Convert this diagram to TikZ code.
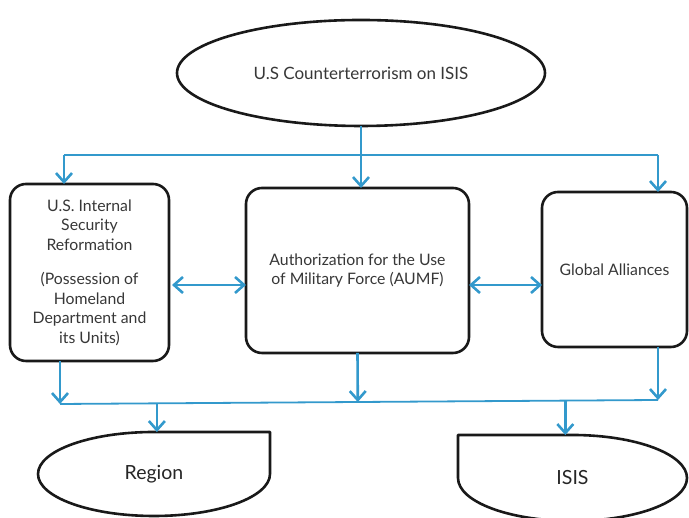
\documentclass[tikz,border=0pt]{standalone}
\usepackage{fontspec}
\setmainfont{Lato}
\usetikzlibrary{arrows.meta,shapes.geometric,calc}
\definecolor{linkblue}{RGB}{51,153,204}
\definecolor{textgray}{RGB}{55,55,55}
\newcommand{\CTLineWidth}{2.6pt}
\newcommand{\CTBoxFont}{\fontsize{15.8}{19.5}\selectfont}
\newcommand{\CTOvalFont}{\fontsize{17}{20}\selectfont}
\newcommand{\CTTankFont}{\fontsize{19.5}{22}\selectfont}
\tikzset{
  box/.style={draw=black!90, line width=\CTLineWidth, rounded corners=16pt,
    align=center, text=textgray, font=\CTBoxFont, outer sep=0pt},
  oval/.style={ellipse, draw=black!90, line width=\CTLineWidth,
    text=textgray, font=\CTOvalFont, inner sep=0pt, outer sep=0pt},
  tank/.style={draw=black!90, line width=\CTLineWidth, line join=round},
  tanklabel/.style={text=black!85, font=\CTTankFont, outer sep=0pt, inner sep=0pt},
  bus/.style={draw=linkblue, line width=1.8pt},
  link/.style={draw=linkblue, line width=2.6pt,
    -{Straight Barb[length=9pt,width=16pt]}},
  linkboth/.style={draw=linkblue, line width=2.6pt,
    {Straight Barb[length=9pt,width=16pt]}-{Straight Barb[length=9pt,width=16pt]}}
}
\begin{document}
\begin{tikzpicture}[x=1pt,y=1pt]
\useasboundingbox (0,0) rectangle (689,518);

\node[oval, minimum width=368pt, minimum height=106pt] (goal) at (361,445) {U.S Counterterrorism on ISIS};

\node[box, minimum width=159pt, minimum height=177pt] (internal) at (89.5,245.5)
  {U.S. Internal\\Security\\Reformation\\[15pt](Possession of\\Homeland\\Department and\\its Units)};
\node[box, minimum width=223pt, minimum height=165pt] (aumf) at (357.5,247.5)
  {Authorization for the Use\\of Military Force (AUMF)};
\node[box, minimum width=145pt, minimum height=155pt] (global) at (614.5,248.5) {Global Alliances};

\node[tanklabel, minimum width=232pt, minimum height=84pt] (region) at (154,44) {Region};
\node[tanklabel, minimum width=229pt, minimum height=86pt] (isis) at (572.5,40) {ISIS};

\draw[tank] (region.north) -- (region.north east) -- (region.east)
  arc[start angle=0, end angle=-270, x radius=116, y radius=42] -- cycle;
\draw[tank] (isis.north west) -- (isis.north)
  arc[start angle=90, end angle=-180, x radius=114.5, y radius=43] -- cycle;

% top distribution
\coordinate (busL) at (64,363);
\coordinate (busR) at (658,363);
\draw[bus] (busL) -- (busR);
\draw[link] (goal.south) -- (goal.south |- aumf.north);
\draw[link] (busL) -- (busL |- internal.north);
\draw[link] (busR) -- (busR |- global.north);

\coordinate (mid) at (0,233);
\draw[linkboth] ($(internal.east |- mid)+(3,0)$) -- (aumf.west |- mid);
\draw[linkboth] (aumf.east |- mid) -- (global.west |- mid);

% bottom collection
\coordinate (busBL) at (60,114);
\coordinate (busBR) at (658,118);
\draw[bus] (busBL) -- (busBR);
\draw[link] (busBL |- internal.south) -- (busBL);
\draw[link] (aumf.south) -- ($(busBL)!(aumf.south)!(busBR)$);
\draw[link] (busBR |- global.south) -- (busBR);

\coordinate (tapL) at ($(busBL)!0.162!(busBR)$);
\coordinate (tapR) at ($(busBL)!0.845!(busBR)$);
\draw[link] (tapL) -- (tapL |- region.north);
\draw[link] (tapR) -- (tapR |- isis.north);
\end{tikzpicture}
\end{document}
